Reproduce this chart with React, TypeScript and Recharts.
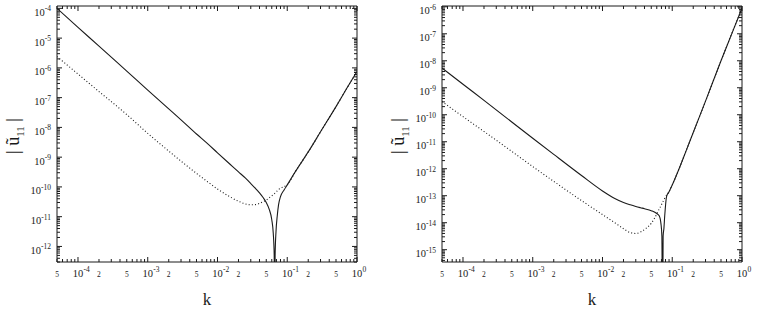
import React from "react";
import { LineChart, Line, XAxis, YAxis } from "recharts";

// wave numbers and |u11| amplitudes
const kLeft = [
  5e-5, 1e-4, 2e-4, 5e-4, 1e-3, 2e-3, 3e-3, 5e-3, 7e-3, 1e-2, 1.5e-2, 2e-2,
  2.5e-2, 3e-2, 3.5e-2, 4e-2, 4.5e-2, 5e-2, 5.5e-2, 6e-2, 6.3e-2, 6.5e-2,
  6.58e-2, 6.7e-2, 6.9e-2, 7.2e-2, 7.5e-2, 8e-2, 9e-2, 0.1, 0.13, 0.2, 0.3,
  0.5, 0.7, 1,
];
const solidLeft = [
  1.0e-4, 2.3e-5, 5.4e-6, 7.8e-7, 1.8e-7, 4.2e-8, 1.8e-8, 6.0e-9, 3.0e-9,
  1.4e-9, 5.9e-10, 3.2e-10, 2.0e-10, 1.3e-10, 8.9e-11, 6.3e-11, 4.4e-11,
  3.0e-11, 1.8e-11, 7.9e-12, 2.8e-12, 5e-13, 1e-15, 5e-13, 3.2e-12, 1.1e-11,
  2.5e-11, 4.7e-11, 7.9e-11, 1.17e-10, 3.2e-10, 1.5e-9, 7.1e-9, 5.0e-8,
  1.9e-7, 7.6e-7,
];
const dottedLeft = [
  2.4e-6, 6.2e-7, 1.6e-7, 2.7e-8, 6.3e-9, 1.6e-9, 7.35e-10, 2.85e-10, 1.57e-10,
  8.5e-11, 4.7e-11, 3.3e-11, 2.7e-11, 2.5e-11, 2.55e-11, 2.8e-11, 3.2e-11,
  3.6e-11, 4.3e-11, 5.0e-11, 5.5e-11, 5.9e-11, 6.0e-11, 6.3e-11, 6.8e-11,
  7.4e-11, 8.1e-11, 9.1e-11, 1.02e-10, 1.17e-10, 3.2e-10, 1.5e-9, 7.1e-9,
  5.0e-8, 1.9e-7, 7.6e-7,
];

const kRight = [
  5e-5, 1e-4, 2e-4, 5e-4, 1e-3, 2e-3, 5e-3, 1e-2, 1.5e-2, 2e-2, 2.5e-2, 3e-2,
  3.5e-2, 4e-2, 5e-2, 6e-2, 6.5e-2, 6.9e-2, 7.1e-2, 7.26e-2, 7.4e-2, 7.6e-2,
  7.8e-2, 8.3e-2, 9e-2, 0.1, 0.13, 0.16, 0.2, 0.3, 0.5, 0.7, 1,
];
const solidRight = [
  5.4e-9, 1.35e-9, 3.4e-10, 5.4e-11, 1.35e-11, 3.4e-12, 5.6e-13, 1.5e-13,
  7.9e-14, 5.6e-14, 4.6e-14, 4.0e-14, 3.6e-14, 3.3e-14, 2.8e-14, 2.2e-14,
  1.8e-14, 8.9e-15, 3.2e-15, 1e-18, 3.2e-15, 6.3e-15, 1.8e-14, 9.5e-14,
  1.4e-13, 2.5e-13, 1.26e-12, 5.0e-12, 2.2e-11, 3.2e-10, 1.0e-8, 8.9e-8, 8.9e-7,
];
const dottedRight = [
  3.1e-10, 8.5e-11, 2.4e-11, 4.4e-12, 1.2e-12, 3.4e-13, 6.6e-14, 2.0e-14,
  1.0e-14, 6.0e-15, 4.3e-15, 4.0e-15, 4.5e-15, 5.6e-15, 9.5e-15, 2.1e-14,
  3.2e-14, 4.3e-14, 5.0e-14, 5.6e-14, 6.2e-14, 7.0e-14, 8.0e-14, 1.05e-13,
  1.4e-13, 2.5e-13, 1.26e-12, 5.0e-12, 2.2e-11, 3.2e-10, 1.0e-8, 8.9e-8, 8.9e-7,
];

// axis ranges and tick labels
const xDomain: [number, number] = [5e-5, 1];
const xLabelTicks = [5e-5, 1e-4, 2e-4, 5e-4, 1e-3, 2e-3, 5e-3, 1e-2, 2e-2, 5e-2, 1e-1, 2e-1, 5e-1, 1];
const xLabelTexts = ["5", "10^-4", "2", "5", "10^-3", "2", "5", "10^-2", "2", "5", "10^-1", "2", "5", "10^0"];
const yDomainLeft: [number, number] = [3e-13, 1.2e-4];
const yDomainRight: [number, number] = [3.5e-16, 1.07e-6];
const yExpsLeft = [-4, -5, -6, -7, -8, -9, -10, -11, -12];
const yExpsRight = [-6, -7, -8, -9, -10, -11, -12, -13, -14, -15];

const INK = "#1a1a1a";
const SERIF = "'Liberation Serif', 'DejaVu Serif', serif";

function logTicks(lo: number, hi: number) {
  const out: number[] = [];
  for (let e = Math.floor(Math.log10(lo)); e <= Math.ceil(Math.log10(hi)); e++) {
    for (let m = 1; m <= 9; m++) {
      const v = m * Math.pow(10, e);
      if (v >= lo * 0.999999 && v <= hi * 1.000001) out.push(v);
    }
  }
  return out;
}

const isDecade = (v: number) => Math.abs(Math.log10(v) - Math.round(Math.log10(v))) < 1e-6;
const same = (a: number, b: number) => Math.abs(a / b - 1) < 1e-6;

function XTick(props: any) {
  const { x, y, payload, side } = props;
  const v = payload.value;
  const len = isDecade(v) ? 5 : 3;
  const dir = side === "top" ? 1 : -1;
  let label: React.ReactNode = null;
  if (side !== "top") {
    const i = xLabelTicks.findIndex((t) => same(t, v));
    if (i >= 0) {
      const txt = xLabelTexts[i];
      if (txt.includes("^")) {
        const [base, exp] = txt.split("^");
        label = (
          <g fontFamily={SERIF} fill={INK}>
            <text x={x} y={y + 15} fontSize={10.5} textAnchor="middle">{base}</text>
            <text x={x + 5.5} y={y + 10} fontSize={7.5}>{exp}</text>
          </g>
        );
      } else {
        label = (
          <text x={x} y={y + 14.5} fontSize={7.5} textAnchor="middle" fontFamily={SERIF} fill={INK}>
            {txt}
          </text>
        );
      }
    }
  }
  return (
    <g>
      <line x1={x} x2={x} y1={y} y2={y + dir * len} stroke={INK} strokeWidth={1} />
      {label}
    </g>
  );
}

function YTick(props: any) {
  const { x, y, payload, side, exps } = props;
  const v = payload.value;
  const len = isDecade(v) ? 5 : 3;
  const dir = side === "right" ? -1 : 1;
  let label: React.ReactNode = null;
  if (side !== "right" && isDecade(v)) {
    const e = Math.round(Math.log10(v));
    if (exps.includes(e)) {
      label = (
        <text x={x - 6} y={y + 7.5} textAnchor="end" fontFamily={SERIF} fill={INK} fontSize={10.5}>
          10
          <tspan dy={-4.5} fontSize={7.5}>{String(e)}</tspan>
        </text>
      );
    }
  }
  return (
    <g>
      <line x1={x} x2={x + dir * len} y1={y} y2={y} stroke={INK} strokeWidth={1} />
      {label}
    </g>
  );
}

type PanelProps = {
  k: number[];
  solid: number[];
  dotted: number[];
  yDomain: [number, number];
  exps: number[];
  left: number;
  width: number;
  plotLeft: number;
  plotRight: number;
};

const axisCommon = {
  type: "number" as const,
  scale: "log" as const,
  allowDataOverflow: true,
  interval: 0 as const,
  tickSize: 0,
  tickMargin: 0,
  tickLine: false,
  axisLine: { stroke: INK },
};

function Panel({ k, solid, dotted, yDomain, exps, left, width, plotLeft, plotRight }: PanelProps) {
  const data = k.map((kv, i) => ({ k: kv, solid: solid[i], dotted: dotted[i] }));
  const xTicks = logTicks(xDomain[0], xDomain[1]);
  const yTicks = logTicks(yDomain[0], yDomain[1]);
  const cx = (plotLeft + plotRight) / 2;
  return (
    <div style={{ position: "absolute", left, top: 0, width, height: 309 }}>
      {/* axes are 1px thick so that they still get drawn; margins are trimmed by that pixel */}
      <LineChart
        width={width}
        height={309}
        data={data}
        margin={{ top: 5, right: width - plotRight - 1, bottom: 46, left: plotLeft - 1 }}
      >
        <XAxis
          {...axisCommon}
          xAxisId="b"
          dataKey="k"
          domain={xDomain}
          ticks={xTicks}
          height={1}
          tick={(p: any) => <XTick {...p} side="bottom" />}
        />
        <XAxis
          {...axisCommon}
          xAxisId="t"
          orientation="top"
          dataKey="k"
          domain={xDomain}
          ticks={xTicks}
          height={1}
          tick={(p: any) => <XTick {...p} side="top" />}
        />
        <YAxis
          {...axisCommon}
          yAxisId="l"
          domain={yDomain}
          ticks={yTicks}
          width={1}
          tick={(p: any) => <YTick {...p} side="left" exps={exps} />}
        />
        <YAxis
          {...axisCommon}
          yAxisId="r"
          orientation="right"
          domain={yDomain}
          ticks={yTicks}
          width={1}
          tick={(p: any) => <YTick {...p} side="right" exps={exps} />}
        />
        <Line
          xAxisId="b"
          yAxisId="l"
          dataKey="dotted"
          type="monotone"
          stroke={INK}
          strokeWidth={1.1}
          strokeDasharray="1 2.2"
          dot={false}
          isAnimationActive={false}
        />
        <Line
          xAxisId="b"
          yAxisId="l"
          dataKey="solid"
          type="monotone"
          stroke={INK}
          strokeWidth={1.1}
          dot={false}
          isAnimationActive={false}
        />
      </LineChart>
      <div
        style={{
          position: "absolute",
          left: plotLeft - 42,
          top: 136,
          transform: "translate(-50%, -50%) rotate(-90deg)",
          whiteSpace: "nowrap",
          fontFamily: SERIF,
          fontSize: 18,
          color: INK,
          lineHeight: 1,
        }}
      >
        | ũ<sub style={{ fontSize: 11 }}>11</sub> |
      </div>
      <div
        style={{
          position: "absolute",
          left: cx,
          top: 291,
          transform: "translateX(-50%)",
          fontFamily: SERIF,
          fontSize: 17,
          color: INK,
          lineHeight: 1,
        }}
      >
        k
      </div>
    </div>
  );
}

export default function App() {
  return (
    <div style={{ position: "absolute", left: 0, top: 0, width: 763, height: 309, background: "#fff" }}>
      <Panel
        k={kLeft}
        solid={solidLeft}
        dotted={dottedLeft}
        yDomain={yDomainLeft}
        exps={yExpsLeft}
        left={0}
        width={380}
        plotLeft={57}
        plotRight={357}
      />
      <Panel
        k={kRight}
        solid={solidRight}
        dotted={dottedRight}
        yDomain={yDomainRight}
        exps={yExpsRight}
        left={384}
        width={379}
        plotLeft={58}
        plotRight={358}
      />
    </div>
  );
}
